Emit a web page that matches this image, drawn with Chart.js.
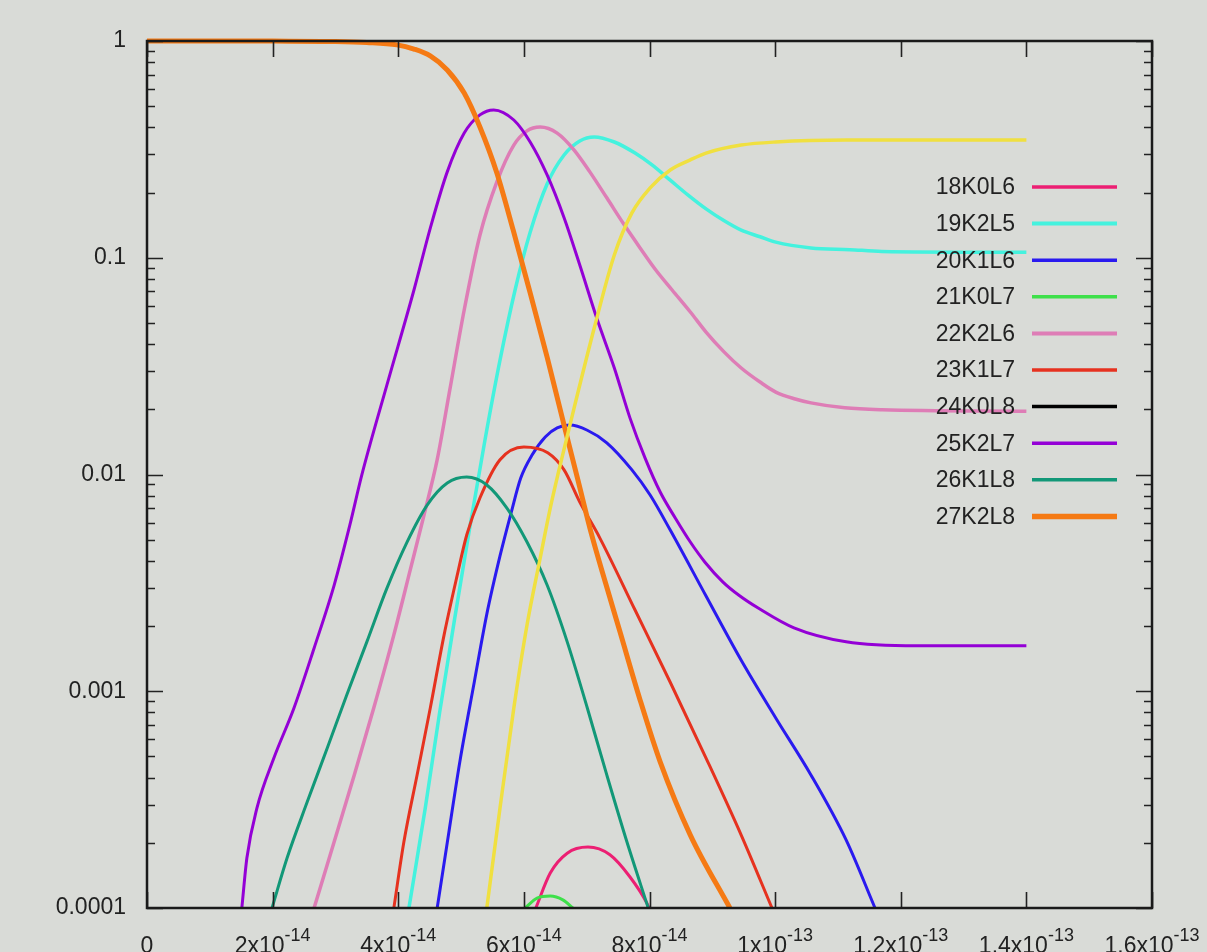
<!DOCTYPE html>
<html><head><meta charset="utf-8">
<script src="https://cdn.jsdelivr.net/npm/chart.js@4.4.0/dist/chart.umd.min.js"></script>
<style>html,body{margin:0;padding:0;background:#d9dbd7;overflow:hidden}canvas{display:block}</style>
</head><body>
<canvas id="c" width="1207" height="952"></canvas>
<script>
// ---- tick data ----
const xTickValues = [0, 2e-14, 4e-14, 6e-14, 8e-14, 1e-13, 1.2e-13, 1.4e-13, 1.6e-13];
const xTickMantissa = ['0', '2', '4', '6', '8', '1', '1.2', '1.4', '1.6'];
const xTickExponent = ['', '-14', '-14', '-14', '-14', '-13', '-13', '-13', '-13'];
const yTickValues = [1e-4, 1e-3, 1e-2, 1e-1, 1];
const yTickLabels = ['0.0001', '0.001', '0.01', '0.1', '1'];

const seriesLabels = ['18K0L6','19K2L5','20K1L6','21K0L7','22K2L6','23K1L7','24K0L8','25K2L7','26K1L8','27K2L8',''];

// ---- series values (x in seconds, y population) ----
const s18x = [6.19e-14, 6.42e-14, 6.69e-14, 7.02e-14, 7.37e-14, 7.69e-14, 7.96e-14, 7.99e-14];
const s18y = [1e-4, 1.45e-4, 1.79e-4, 1.91e-4, 1.76e-4, 1.39e-4, 1.05e-4, 1e-4];

const s19x = [4.17e-14, 4.43e-14, 4.66e-14, 4.90e-14, 5.14e-14, 5.38e-14, 5.62e-14, 5.86e-14, 6.10e-14, 6.37e-14, 6.64e-14, 6.89e-14, 7.12e-14, 7.44e-14, 7.77e-14, 8.04e-14, 8.33e-14, 8.61e-14, 8.90e-14, 9.19e-14, 9.46e-14, 9.76e-14, 10.01e-14, 10.57e-14, 11.19e-14, 11.70e-14, 14.0e-14];
const s19y = [1e-4, 2.89e-4, 8.02e-4, 2.18e-3, 5.73e-3, 0.0144, 0.0337, 0.0710, 0.131, 0.219, 0.298, 0.346, 0.361, 0.342, 0.304, 0.268, 0.228, 0.195, 0.168, 0.148, 0.134, 0.125, 0.118, 0.111, 0.109, 0.107, 0.106];

const s20x = [4.62e-14, 4.78e-14, 4.98e-14, 5.21e-14, 5.41e-14, 5.62e-14, 5.80e-14, 5.95e-14, 6.13e-14, 6.34e-14, 6.53e-14, 6.73e-14, 7.01e-14, 7.32e-14, 7.72e-14, 8.01e-14, 8.33e-14, 8.90e-14, 9.46e-14, 10.01e-14, 10.57e-14, 11.13e-14, 11.59e-14];
const s20y = [1e-4, 2.0e-4, 4.72e-4, 1.10e-3, 2.27e-3, 4.21e-3, 6.71e-3, 9.63e-3, 0.0123, 0.0149, 0.0164, 0.0169, 0.0160, 0.0140, 0.0105, 8.04e-3, 5.54e-3, 2.75e-3, 1.39e-3, 7.53e-4, 4.11e-4, 2.06e-4, 1e-4];

const s21x = [6.02e-14, 6.21e-14, 6.42e-14, 6.62e-14, 6.78e-14];
const s21y = [1e-4, 1.11e-4, 1.135e-4, 1.09e-4, 1e-4];

const s22x = [2.66e-14, 2.98e-14, 3.30e-14, 3.61e-14, 3.93e-14, 4.19e-14, 4.41e-14, 4.62e-14, 4.82e-14, 5.05e-14, 5.30e-14, 5.57e-14, 5.84e-14, 6.05e-14, 6.26e-14, 6.53e-14, 6.80e-14, 7.05e-14, 7.32e-14, 7.59e-14, 7.85e-14, 8.10e-14, 8.36e-14, 8.65e-14, 8.90e-14, 9.19e-14, 9.46e-14, 9.76e-14, 10.01e-14, 10.32e-14, 10.57e-14, 11.11e-14, 11.70e-14, 14.0e-14];
const s22y = [1e-4, 2.02e-4, 4.11e-4, 8.37e-4, 1.82e-3, 3.62e-3, 6.50e-3, 0.0117, 0.0245, 0.0574, 0.127, 0.224, 0.331, 0.385, 0.401, 0.376, 0.314, 0.249, 0.189, 0.143, 0.111, 0.0878, 0.0710, 0.0562, 0.0454, 0.0367, 0.0310, 0.0267, 0.0240, 0.0223, 0.0214, 0.0203, 0.0199, 0.0196];

const s23x = [3.93e-14, 4.09e-14, 4.30e-14, 4.51e-14, 4.73e-14, 4.94e-14, 5.09e-14, 5.30e-14, 5.62e-14, 6.00e-14, 6.38e-14, 6.64e-14, 6.89e-14, 7.21e-14, 7.77e-14, 8.33e-14, 8.90e-14, 9.46e-14, 9.95e-14];
const s23y = [1e-4, 2.02e-4, 4.11e-4, 8.37e-4, 1.82e-3, 3.44e-3, 5.26e-3, 7.79e-3, 0.0117, 0.0134, 0.0126, 0.0105, 7.46e-3, 5.09e-3, 2.37e-3, 1.10e-3, 4.92e-4, 2.17e-4, 1e-4];

const s24x = [];
const s24y = [];

const s25x = [1.51e-14, 1.59e-14, 1.75e-14, 2.02e-14, 2.34e-14, 2.66e-14, 2.98e-14, 3.23e-14, 3.42e-14, 3.82e-14, 4.25e-14, 4.51e-14, 4.78e-14, 5.05e-14, 5.30e-14, 5.52e-14, 5.84e-14, 6.10e-14, 6.37e-14, 6.64e-14, 6.89e-14, 7.16e-14, 7.44e-14, 7.69e-14, 7.93e-14, 8.17e-14, 8.41e-14, 8.65e-14, 8.88e-14, 9.17e-14, 9.44e-14, 9.73e-14, 10.30e-14, 11.13e-14, 12.26e-14, 14.0e-14];
const s25y = [1e-4, 1.70e-4, 2.89e-4, 4.92e-4, 8.37e-4, 1.58e-3, 3.09e-3, 5.85e-3, 9.95e-3, 0.0259, 0.0710, 0.137, 0.249, 0.376, 0.456, 0.481, 0.432, 0.342, 0.241, 0.153, 0.0926, 0.0527, 0.0310, 0.0182, 0.0119, 8.30e-3, 6.30e-3, 4.88e-3, 3.95e-3, 3.19e-3, 2.75e-3, 2.42e-3, 1.96e-3, 1.69e-3, 1.62e-3, 1.62e-3];

const s26x = [1.99e-14, 2.23e-14, 2.55e-14, 2.87e-14, 3.18e-14, 3.50e-14, 3.82e-14, 4.14e-14, 4.46e-14, 4.78e-14, 5.09e-14, 5.41e-14, 5.73e-14, 6.05e-14, 6.37e-14, 6.69e-14, 7.01e-14, 7.32e-14, 7.64e-14, 7.98e-14];
const s26y = [1e-4, 1.70e-4, 3.08e-4, 5.47e-4, 9.61e-4, 1.69e-3, 2.99e-3, 4.88e-3, 7.23e-3, 9.14e-3, 9.73e-3, 8.95e-3, 7.0e-3, 4.88e-3, 3.09e-3, 1.69e-3, 8.37e-4, 4.11e-4, 2.02e-4, 1e-4];

const s27x = [0, 1.0e-14, 2.0e-14, 3.0e-14, 3.5e-14, 3.98e-14, 4.25e-14, 4.51e-14, 4.78e-14, 5.05e-14, 5.30e-14, 5.57e-14, 5.83e-14, 6.10e-14, 6.37e-14, 6.62e-14, 6.86e-14, 7.08e-14, 7.31e-14, 7.53e-14, 7.85e-14, 8.17e-14, 8.65e-14, 9.28e-14];
const s27y = [1.0, 1.0, 0.999, 0.995, 0.985, 0.96, 0.918, 0.853, 0.735, 0.575, 0.401, 0.246, 0.134, 0.0688, 0.0348, 0.0178, 9.44e-3, 5.26e-3, 3.09e-3, 1.88e-3, 9.12e-4, 4.72e-4, 2.17e-4, 1e-4];

const s28x = [5.41e-14, 5.62e-14, 5.84e-14, 6.05e-14, 6.26e-14, 6.42e-14, 6.54e-14, 6.80e-14, 7.12e-14, 7.44e-14, 7.72e-14, 8.01e-14, 8.33e-14, 8.65e-14, 8.90e-14, 9.46e-14, 10.01e-14, 11.13e-14, 14.0e-14];
const s28y = [1e-4, 2.89e-4, 8.37e-4, 2.02e-3, 4.12e-3, 7.0e-3, 9.95e-3, 0.0203, 0.0474, 0.103, 0.161, 0.210, 0.254, 0.283, 0.304, 0.331, 0.342, 0.349, 0.349];

const seriesX = [s18x, s19x, s20x, s21x, s22x, s23x, s24x, s25x, s26x, s27x, s28x];
const seriesY = [s18y, s19y, s20y, s21y, s22y, s23y, s24y, s25y, s26y, s27y, s28y];

// ---- styles ----
const colors = ['#ec1f73', '#44f2de', '#2a1aef', '#3ee04a', '#de7db6', '#e6321f', '#000000', '#9400d6', '#129878', '#f57a14', '#f0e040'];
const widths = [3, 3.5, 3, 3, 3.5, 3, 3, 3, 3, 5, 3.5];

const datasets = seriesX.map((xs, i) => ({
  label: seriesLabels[i],
  data: xs.map((x, j) => ({x: x, y: seriesY[i][j]})),
  borderColor: colors[i],
  backgroundColor: colors[i],
  borderWidth: widths[i],
  pointRadius: 0,
  fill: false,
  cubicInterpolationMode: 'monotone',
  order: seriesX.length - i,
  clip: i === 9 ? 4 : 0
}));

const FONT = '"Liberation Sans", Arial, sans-serif';

const bgPlugin = {
  id: 'bg',
  beforeDraw(chart) {
    const c = chart.ctx;
    c.save(); c.fillStyle = '#d9dbd7'; c.fillRect(0, 0, chart.width, chart.height); c.restore();
  }
};

const framePlugin = {
  id: 'frame',
  afterDatasetsDraw(chart) {
    const c = chart.ctx, a = chart.chartArea, xs = chart.scales.x, ys = chart.scales.y;
    c.save();
    c.strokeStyle = '#222';
    c.lineWidth = 1.6;
    c.beginPath();
    xTickValues.forEach(v => {
      const px = Math.round(xs.getPixelForValue(v)) + 0.5;
      c.moveTo(px, a.bottom); c.lineTo(px, a.bottom - 16);
      c.moveTo(px, a.top); c.lineTo(px, a.top + 16);
    });
    yTickValues.forEach(v => {
      const py = Math.round(ys.getPixelForValue(v)) + 0.5;
      c.moveTo(a.left, py); c.lineTo(a.left + 16, py);
      c.moveTo(a.right, py); c.lineTo(a.right - 16, py);
    });
    for (let d = -4; d < 0; d++) {
      for (let k = 2; k <= 9; k++) {
        const py = Math.round(ys.getPixelForValue(k * Math.pow(10, d))) + 0.5;
        c.moveTo(a.left, py); c.lineTo(a.left + 8, py);
        c.moveTo(a.right, py); c.lineTo(a.right - 8, py);
      }
    }
    c.stroke();
    c.lineWidth = 2.5;
    c.strokeStyle = '#1a1a1a';
    c.strokeRect(a.left, a.top, a.right - a.left, a.bottom - a.top);

    // x tick labels with superscript exponent
    c.fillStyle = '#222';
    c.textBaseline = 'alphabetic';
    c.textAlign = 'left';
    xTickValues.forEach((v, i) => {
      const px = xs.getPixelForValue(v);
      const base = xTickExponent[i] ? xTickMantissa[i] + 'x10' : xTickMantissa[i];
      c.font = '23px ' + FONT;
      const wb = c.measureText(base).width;
      c.font = '18px ' + FONT;
      const we = xTickExponent[i] ? c.measureText(xTickExponent[i]).width : 0;
      const x0 = px - (wb + we) / 2;
      c.font = '23px ' + FONT;
      c.fillText(base, x0, 953);
      if (xTickExponent[i]) {
        c.font = '18px ' + FONT;
        c.fillText(xTickExponent[i], x0 + wb, 941);
      }
    });

    // key
    c.font = '23px ' + FONT;
    c.textBaseline = 'middle';
    for (let i = 0; i < 10; i++) {
      const y = 187 + i * 36.6;
      c.textAlign = 'right';
      c.fillStyle = '#222';
      c.fillText(seriesLabels[i], 1015, y + 1);
      c.strokeStyle = colors[i];
      c.lineWidth = widths[i] + 0.5;
      c.beginPath(); c.moveTo(1032, y); c.lineTo(1117, y); c.stroke();
    }
    c.restore();
  }
};

new Chart(document.getElementById('c'), {
  type: 'line',
  data: { datasets: datasets },
  options: {
    responsive: false,
    animation: false,
    events: [],
    devicePixelRatio: 1,
    layout: { padding: { top: 41, right: 55, left: 0, bottom: 0 } },
    plugins: { legend: { display: false }, tooltip: { enabled: false }, title: { display: false } },
    scales: {
      x: {
        type: 'linear', min: 0, max: 1.6e-13,
        afterBuildTicks: s => { s.ticks = xTickValues.map(v => ({value: v})); },
        ticks: { display: false },
        grid: { display: false, drawTicks: false },
        border: { display: false },
        afterFit: s => { s.height = 44; }
      },
      y: {
        type: 'logarithmic', min: 1e-4, max: 1,
        afterBuildTicks: s => { s.ticks = yTickValues.map(v => ({value: v})); },
        ticks: {
          callback: (v, i) => yTickLabels[i],
          font: { family: FONT, size: 23 },
          color: '#222',
          padding: 21
        },
        grid: { display: false, drawTicks: false },
        border: { display: false },
        afterFit: s => { s.width = 147; }
      }
    }
  },
  plugins: [bgPlugin, framePlugin]
});
</script></body></html>
